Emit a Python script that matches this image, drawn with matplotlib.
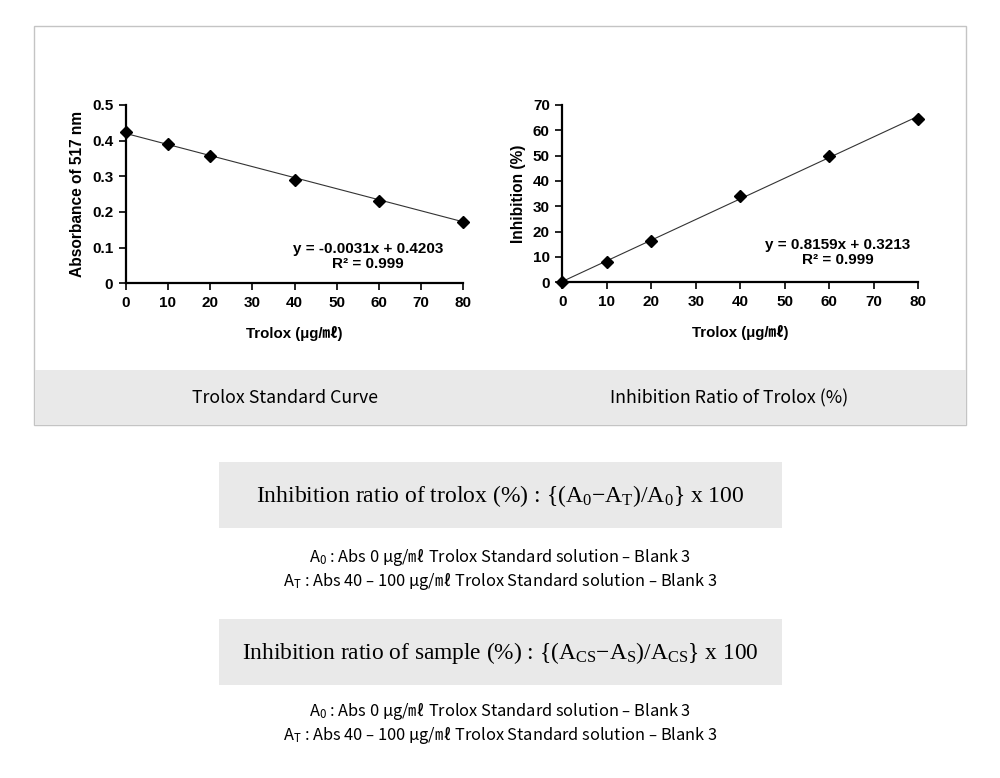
import numpy as np
import matplotlib
matplotlib.use('Agg')
import matplotlib.pyplot as plt
from matplotlib.patches import Rectangle

# data
trolox = [0, 10, 20, 40, 60, 80]
absorbance = [0.423, 0.390, 0.357, 0.289, 0.230, 0.172]
inhibition = [0.0, 8.2, 16.3, 34.2, 50.0, 64.6]

abs_slope, abs_icpt = -0.0031, 0.4203
inh_slope, inh_icpt = 0.8159, 0.3213
r2_text = 'R\u00b2 = 0.999'

x_ticks = [0, 10, 20, 30, 40, 50, 60, 70, 80]
abs_ticks = [0, 0.1, 0.2, 0.3, 0.4, 0.5]
abs_tick_labels = ['0', '0.1', '0.2', '0.3', '0.4', '0.5']
inh_ticks = [0, 10, 20, 30, 40, 50, 60, 70]

panel_titles = ['Trolox Standard Curve', 'Inhibition Ratio of Trolox (%)']
xlabel = 'Trolox (\u03bcg/\u3396)'

plt.rcParams['mathtext.fontset'] = 'custom'
plt.rcParams['mathtext.rm'] = 'Liberation Serif'
plt.rcParams['mathtext.it'] = 'Liberation Serif:italic'

W, H = 1000, 778
fig = plt.figure(figsize=(W / 100, H / 100), dpi=100)


def fx(px):
    return px / W


def fy(py):
    return 1 - py / H


chart_font = ['Liberation Sans', 'Noto Sans CJK KR', 'DejaVu Sans']
kr_font = ['Noto Sans CJK KR', 'DejaVu Sans']

# outer frame and gray caption band
fig.patches.append(Rectangle((fx(34), fy(425)), fx(966) - fx(34), fy(26) - fy(425),
                             transform=fig.transFigure, facecolor='white',
                             edgecolor='#c4c4c4', lw=1.0, zorder=-2))
fig.patches.append(Rectangle((fx(34.5), fy(425)), fx(965.5) - fx(34.5), fy(370) - fy(425),
                             transform=fig.transFigure, facecolor='#e9e9e9',
                             edgecolor='none', zorder=-1))


def style_axes(ax):
    for s in ['top', 'right']:
        ax.spines[s].set_visible(False)
    for s in ['left', 'bottom']:
        ax.spines[s].set_linewidth(1.6)
        ax.spines[s].set_color('black')
    ax.tick_params(direction='out', length=5, width=1.2, pad=4)
    for lab in ax.get_xticklabels() + ax.get_yticklabels():
        lab.set_fontfamily(chart_font)
        lab.set_fontweight('bold')
        lab.set_fontsize(11)
    ax.patch.set_alpha(0)


# left: absorbance
ax1 = fig.add_axes([fx(125.7), fy(283.3), fx(463.3) - fx(125.7), fy(105) - fy(283.3)])
xs = np.array([0, 80])
ax1.plot(xs, abs_slope * xs + abs_icpt, color='#333333', lw=0.8, zorder=2)
ax1.plot(trolox, absorbance, 'D', color='black', ms=6.3, clip_on=False, zorder=3)
ax1.set_xlim(0, 80)
ax1.set_ylim(0, 0.5)
ax1.set_xticks(x_ticks)
ax1.set_yticks(abs_ticks)
ax1.set_yticklabels(abs_tick_labels)
style_axes(ax1)
ax1.set_ylabel('Absorbance of 517 nm', fontfamily=chart_font, fontweight='bold',
               fontsize=11.2, labelpad=5)
ax1.set_xlabel(xlabel, fontfamily=chart_font, fontweight='bold', fontsize=10.8, labelpad=12)
ax1.text(0.718, 0.15, 'y = -0.0031x + 0.4203\n' + r2_text, transform=ax1.transAxes,
         ha='center', va='center', multialignment='center', fontfamily=chart_font,
         fontweight='bold', fontsize=11, linespacing=1.1)

# right: inhibition
ax2 = fig.add_axes([fx(562.3), fy(282.3), fx(918.3) - fx(562.3), fy(105) - fy(282.3)])
ax2.plot(xs, inh_slope * xs + inh_icpt, color='#333333', lw=0.8, zorder=2)
ax2.plot(trolox, inhibition, 'D', color='black', ms=6.3, clip_on=False, zorder=3)
ax2.set_xlim(0, 80)
ax2.set_ylim(0, 70)
ax2.set_xticks(x_ticks)
ax2.set_yticks(inh_ticks)
style_axes(ax2)
ax2.set_ylabel('Inhibition (%)', fontfamily=chart_font, fontweight='bold',
               fontsize=11.2, labelpad=5)
ax2.set_xlabel(xlabel, fontfamily=chart_font, fontweight='bold', fontsize=10.8, labelpad=12)
ax2.text(0.774, 0.168, 'y = 0.8159x + 0.3213\n' + r2_text, transform=ax2.transAxes,
         ha='center', va='center', multialignment='center', fontfamily=chart_font,
         fontweight='bold', fontsize=11, linespacing=1.1)

# captions in the band
fig.text(fx(285), fy(398), panel_titles[0], ha='center', va='center',
         fontfamily=kr_font, fontsize=12.8)
fig.text(fx(729), fy(398), panel_titles[1], ha='center', va='center',
         fontfamily=kr_font, fontsize=12.8)

# formula boxes
for top in [462, 619]:
    fig.patches.append(Rectangle((fx(219), fy(top + 66)), fx(782) - fx(219), fy(top) - fy(top + 66),
                                 transform=fig.transFigure, facecolor='#e9e9e9',
                                 edgecolor='none', zorder=-1))

formula1 = r'Inhibition ratio of trolox (%) : {(A$_\mathrm{0}$$-$A$_\mathrm{T}$)/A$_\mathrm{0}$} x 100'
formula2 = r'Inhibition ratio of sample (%) : {(A$_\mathrm{CS}$$-$A$_\mathrm{S}$)/A$_\mathrm{CS}$} x 100'
fig.text(0.5, fy(496), formula1, ha='center', va='center',
         fontfamily='Liberation Serif', fontsize=17, math_fontfamily='custom')
fig.text(0.5, fy(653), formula2, ha='center', va='center',
         fontfamily='Liberation Serif', fontsize=16.8, math_fontfamily='custom')

note_a0 = 'A$_\\mathregular{0}$ : Abs 0 \u03bcg/\u3396 Trolox Standard solution \u2013 Blank 3'
note_at = 'A$_\\mathregular{T}$ : Abs 40 \u2013 100 \u03bcg/\u3396 Trolox Standard solution \u2013 Blank 3'
for y0 in [557, 712]:
    fig.text(0.5, fy(y0), note_a0, ha='center', va='center', fontfamily=kr_font,
             fontsize=11.8, math_fontfamily='dejavusans')
    fig.text(0.5, fy(y0 + 24), note_at, ha='center', va='center', fontfamily=kr_font,
             fontsize=11.8, math_fontfamily='dejavusans')

fig.savefig('out.png', dpi=100)
